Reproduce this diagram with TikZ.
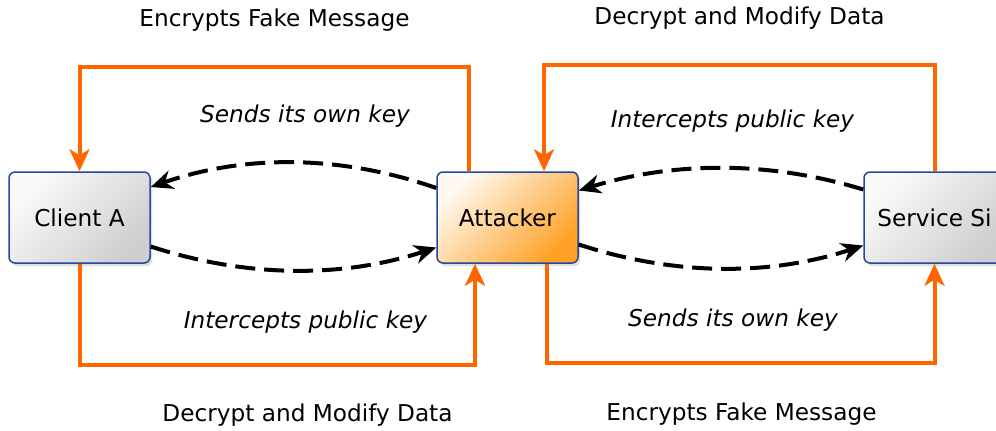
\documentclass[tikz,border=0pt]{standalone}
\usepackage{fontspec}
\setmainfont{DejaVu Sans}
\usetikzlibrary{arrows.meta,shadows}

\definecolor{linkorange}{HTML}{FF6600}
\definecolor{boxblue}{HTML}{2448A0}
\definecolor{atkorange}{HTML}{FF9A14}

\begin{document}
\begin{tikzpicture}[x=0.5pt, y=-0.5pt,
    every node/.style={font=\fontsize{11.6}{14}\selectfont},
    party/.style={draw=boxblue, line width=0.75pt, rounded corners=3pt,
      minimum width=70.5pt, minimum height=45.5pt, inner sep=0pt,
      drop shadow={shadow xshift=1.2pt, shadow yshift=-1.5pt, opacity=0.25},
      left color=white!96!gray, right color=gray!38, shading angle=45},
    attackbox/.style={party, left color=white!94!atkorange, right color=atkorange!92, shading angle=45},
    orangelink/.style={draw=linkorange, line width=2pt,
      -{Stealth[length=11pt, width=10pt, inset=3pt]}},
    keylink/.style={draw=black, line width=2pt, dash pattern=on 10pt off 4.5pt,
      -{Stealth[length=11pt, width=9.5pt, inset=3.5pt]}},
    steplabel/.style={font=\fontsize{11.6}{14}\selectfont\itshape}]
  \useasboundingbox (0,0) rectangle (996,430);

  % the three parties
  \node[party] (cla) at (79.5,217.5) {Client A};
  \node[attackbox] (atk) at (507.5,217.5) {Attacker};
  \node[party] (svc) at (934.5,217.5) {Service Si};

  % orange data paths
  \draw[orangelink] ([xshift=-19.25pt]atk.north) -- ++(0,-104) -| (cla.north);
  \draw[orangelink] (cla.south) -- ++(0,101) -| ([xshift=-16.25pt]atk.south);
  \draw[orangelink] (svc.north) -- ++(0,-106) -| ([xshift=18.25pt]atk.north);
  \draw[orangelink] ([xshift=19.75pt]atk.south) -- ++(0,99) -| (svc.south);

  % key exchange
  \draw[keylink] ([yshift=14.75pt]atk.west) .. controls +(-95,-33) and +(95,-33) .. ([yshift=15.25pt]cla.east);
  \draw[keylink] ([yshift=-14.5pt]cla.east) .. controls +(95,31) and +(-95,31) .. ([yshift=-15pt]atk.west);
  \draw[keylink] ([yshift=14pt]svc.west) .. controls +(-95,-29) and +(95,-29) .. ([yshift=13.5pt]atk.east);
  \draw[keylink] ([yshift=-13.5pt]atk.east) .. controls +(95,31) and +(-95,31) .. ([yshift=-14pt]svc.west);

  % labels
  \node (encl) at (274.5,20.5) {Encrypts Fake Message};
  \node (decr) at (739.5,18.5) {Decrypt and Modify Data};
  \node[steplabel] (sendl) at (305,116.5) {Sends its own key};
  \node[steplabel] (intr) at (732.5,121.5) {Intercepts public key};
  \node[steplabel] (intl) at (305.5,322.5) {Intercepts public key};
  \node[steplabel] (sendr) at (733,320.5) {Sends its own key};
  \node (decl) at (307.5,415.5) {Decrypt and Modify Data};
  \node (encr) at (741.5,414.5) {Encrypts Fake Message};
\end{tikzpicture}
\end{document}
